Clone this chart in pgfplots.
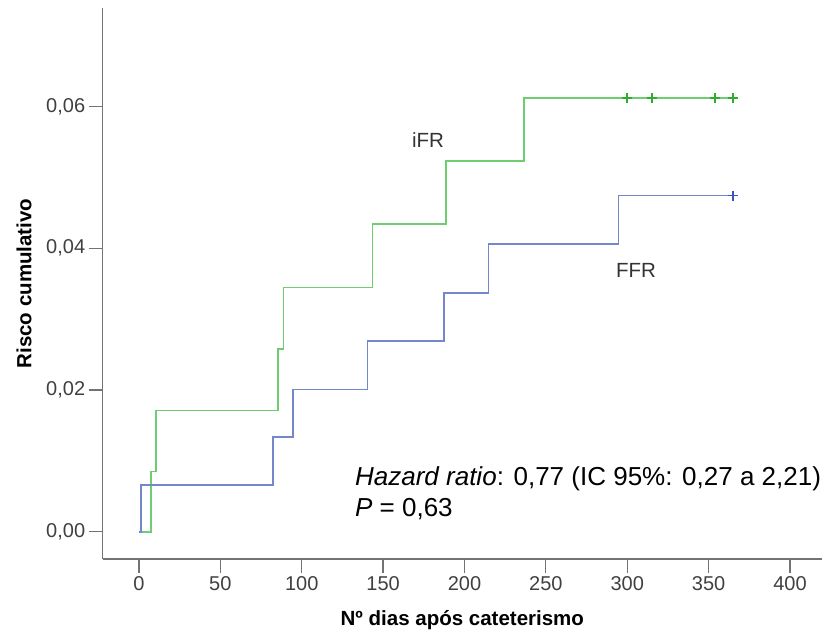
\documentclass[border=0pt]{standalone}
\usepackage{pgfplots}
\pgfplotsset{compat=1.18}
\usepackage{fontspec}
\setmainfont{Liberation Sans}
\definecolor{ifrline}{RGB}{110,205,110}
\definecolor{ifrmark}{RGB}{45,175,45}
\definecolor{ffrline}{RGB}{115,135,205}
\definecolor{ffrmark}{RGB}{55,85,180}
\begin{document}
\begin{tikzpicture}
\path[use as bounding box] (-102.7pt,-78pt) rectangle (728.3pt,559pt);
\begin{axis}[at={(0,0)}, anchor=south west, scale only axis,
	width=719.3pt, height=551pt,
	xmin=-22.3, xmax=419.7, ymin=-0.00385, ymax=0.0739,
	axis x line=bottom, axis y line=left,
	axis line style={-, black!55, line width=1.2pt},
	tick align=outside, major tick length=14pt,
	tick style={black!55, line width=1.2pt},
	xtick={0,50,...,400}, ytick={0,0.02,0.04,0.06},
	scaled y ticks=false,
	/pgf/number format/assume math mode=true,
	ticklabel style={font=\fontsize{20}{24}\selectfont, text=black!75},
	yticklabel style={/pgf/number format/use comma, /pgf/number format/fixed,
		/pgf/number format/fixed zerofill, /pgf/number format/precision=2},
	xlabel={Nº dias após cateterismo}, ylabel={Risco cumulativo},
	label style={font=\fontsize{20.5}{24}\selectfont\bfseries, text=black},
	xlabel style={at={(axis description cs:0.5,-0.1216)}, anchor=base},
	ylabel style={at={(axis description cs:-0.1094,0.5)}, anchor=center},
	clip=false]
% iFR
\addplot[const plot, ifrline, line width=1.6pt] coordinates {
	(0,0) (7.4,0.00847) (10.4,0.01711) (85.6,0.02579) (88.7,0.03445)
	(143.6,0.0434) (188.6,0.05227) (236.6,0.06119) (365.2,0.06119)};
% FFR
\addplot[const plot, ffrline, line width=1.6pt] coordinates {
	(0,0) (1.2,0.00659) (82.5,0.01333) (94.6,0.02005) (140.5,0.02692)
	(187.6,0.0337) (214.7,0.04062) (294.7,0.04744) (365.2,0.04744)};
% censored
\addplot[only marks, mark=+, mark size=5pt, ifrmark, line width=1.8pt] coordinates {
	(299.7,0.06119) (315.0,0.06119) (353.9,0.06119) (365.2,0.06119)};
\addplot[only marks, mark=+, mark size=5pt, ffrmark, line width=1.8pt] coordinates {
	(365.2,0.04744)};
\node[font=\fontsize{20.5}{24}\selectfont, text=black!80] at (axis cs:177.6,0.0553) {iFR};
\node[font=\fontsize{20.5}{24}\selectfont, text=black!80] at (axis cs:305.4,0.0368) {FFR};
\node[font=\fontsize{26}{30}\selectfont, anchor=base west, inner sep=0pt] at (axis cs:132.7,0.00659)
	{\textit{Hazard ratio}: 0,77 (IC 95\%: 0,27 a 2,21)};
\node[font=\fontsize{26}{30}\selectfont, anchor=base west, inner sep=0pt] at (axis cs:132.7,0.00212)
	{\textit{P} = 0,63};
\end{axis}
\end{tikzpicture}
\end{document}
